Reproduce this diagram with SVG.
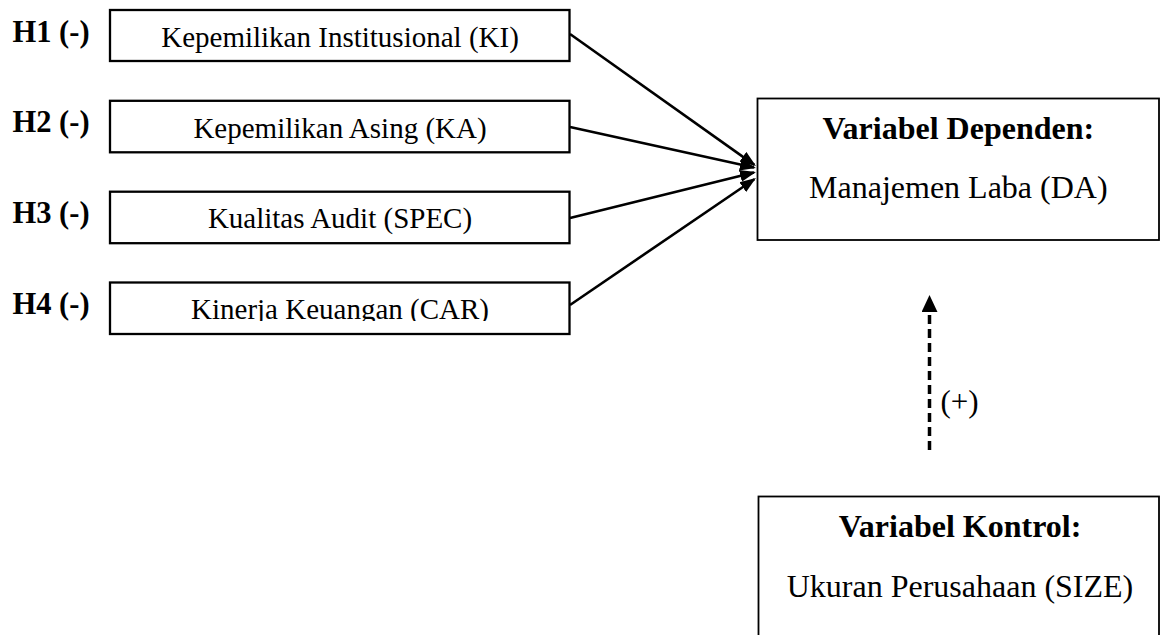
<svg xmlns="http://www.w3.org/2000/svg" width="1162" height="635" viewBox="0 0 1162 635">
<defs>
<style>
.box{fill:#fff;stroke:#000;stroke-width:2.3}
.rbox{fill:#fff;stroke:#000;stroke-width:1.8}
.t{font-family:"Liberation Serif","Times New Roman",serif;fill:#000}
.lbl{font-size:29px;text-anchor:middle}
.h{font-size:30.5px;font-weight:bold}
.rb{font-size:32px;font-weight:bold;text-anchor:middle}
.rt{font-size:32px;text-anchor:middle}
.conn{stroke:#000;stroke-width:2.6;fill:none;marker-end:url(#ah)}
.dash{stroke:#000;stroke-width:3.5;stroke-dasharray:9 5;fill:none;marker-end:url(#ahd)}
</style>
<marker id="ah" markerUnits="userSpaceOnUse" markerWidth="17" markerHeight="13" refX="14" refY="6" orient="auto" viewBox="0 0 17 12"><path d="M0,0 L16,6 L0,12 z" fill="#000"/></marker>
<marker id="ahd" markerUnits="userSpaceOnUse" markerWidth="18" markerHeight="16" refX="15" refY="8" orient="auto" viewBox="0 0 18 16"><path d="M0,0 L17,8 L0,16 z" fill="#000"/></marker>
<clipPath id="clip4"><rect x="110" y="282" width="460" height="39"/></clipPath>
</defs>
<rect width="1162" height="635" fill="#fff"/>
<g id="connectors">
<path class="conn" d="M570,34 L754.3,164.9"/>
<path class="conn" d="M570,127 L754,167.6"/>
<path class="conn" d="M570,218 L754,172.5"/>
<path class="conn" d="M570,305 L754.3,179.2"/>
<path class="dash" d="M929.5,450 L929.5,297"/>
<text class="t" x="940.5" y="411.5" font-size="31px">(+)</text>
</g>
<g id="h1"><text class="t h" x="12.5" y="41.5">H1 (-)</text></g>
<g id="h2"><text class="t h" x="12.5" y="132.3">H2 (-)</text></g>
<g id="h3"><text class="t h" x="12.5" y="223.2">H3 (-)</text></g>
<g id="h4"><text class="t h" x="12.5" y="313.5">H4 (-)</text></g>
<g id="ki"><rect class="box" x="110" y="10" width="459.5" height="51"/><text class="t lbl" x="340" y="46.7">Kepemilikan Institusional (KI)</text></g>
<g id="ka"><rect class="box" x="110" y="100.8" width="459.5" height="51.5"/><text class="t lbl" x="340" y="137.5">Kepemilikan Asing (KA)</text></g>
<g id="spec"><rect class="box" x="110" y="191.7" width="459.5" height="51.5"/><text class="t lbl" x="340" y="228.4">Kualitas Audit (SPEC)</text></g>
<g id="car"><rect class="box" x="110" y="282.5" width="459.5" height="51.5"/><text class="t lbl" x="340" y="318.5" clip-path="url(#clip4)">Kinerja Keuangan (CAR)</text></g>
<g id="da"><rect class="rbox" x="757.5" y="98.5" width="401.5" height="141.5"/><text class="t rb" x="958.3" y="139.3">Variabel Dependen:</text><text class="t rt" x="958.3" y="198.3">Manajemen Laba (DA)</text></g>
<g id="size"><rect class="rbox" x="758.5" y="496.5" width="400.5" height="150"/><text class="t rb" x="960" y="537">Variabel Kontrol:</text><text class="t rt" x="960" y="596.5">Ukuran Perusahaan (SIZE)</text></g>
</svg>
